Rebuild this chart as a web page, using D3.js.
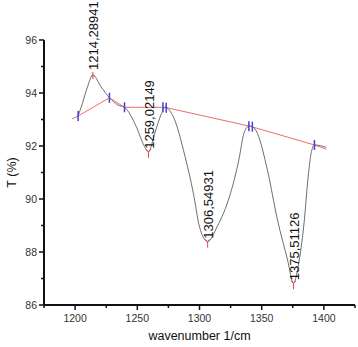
<!DOCTYPE html>
<html>
<head>
<meta charset="utf-8">
<script src="https://cdn.jsdelivr.net/npm/d3@7"></script>
<style>
  html, body { margin: 0; padding: 0; background: #fff; }
  svg { display: block; font-family: "Liberation Sans", Arial, sans-serif; }
</style>
</head>
<body>
<svg id="chart" width="358" height="347"></svg>
<script>
// ---- data ----
const wavenumber = [1202.4, 1205.9, 1210.0, 1214.29, 1220.8, 1227.6, 1234.3, 1239.7, 1249.2, 1255.9, 1259.02, 1264.1, 1269.5, 1272.2,
  1278.9, 1288.4, 1295.1, 1300.0, 1306.55, 1314.1, 1324.9, 1331.6, 1335.7, 1339.7, 1342.5, 1346.5, 1354.6, 1362.7, 1370.8,
  1375.51, 1380.2, 1384.3, 1387.1, 1389.7, 1392.4, 1401.9];
const transmittance = [93.13, 93.61, 94.24, 94.68, 94.24, 93.82, 93.55, 93.46, 92.73, 91.97, 91.78, 92.49, 93.23, 93.46,
  93.11, 91.60, 90.21, 88.95, 88.39, 88.95, 90.21, 91.47, 92.48, 92.75, 92.73, 92.48, 91.09, 89.21, 87.70,
  86.82, 87.70, 89.21, 90.72, 91.72, 92.04, 91.95];

const baselineX = [1197.5, 1202.4, 1227.6, 1239.7, 1272.2, 1341.0, 1392.4, 1401.9];
const baselineY = [93.02, 93.13, 93.82, 93.46, 93.46, 92.74, 92.04, 91.88];

const anchorX = [1202.4, 1227.6, 1239.7, 1270.6, 1273.2, 1339.7, 1342.5, 1392.4];
const anchorY = [93.13, 93.82, 93.46, 93.46, 93.44, 92.75, 92.73, 92.04];

const peakX = [1214.28941, 1259.02149, 1306.54931, 1375.51126];
const peakY = [94.68, 91.78, 88.39, 86.82];
const peakType = ["max", "min", "min", "min"];
const peakLabels = ["1214,28941", "1259,02149", "1306,54931", "1375,51126"];

const xTicks = [1200, 1250, 1300, 1350, 1400];
const xMinorTicks = [1175, 1225, 1275, 1325, 1375, 1425];
const yTicks = [86, 88, 90, 92, 94, 96];
const yMinorTicks = [87, 89, 91, 93, 95];
const xTitle = "wavenumber 1/cm";
const yTitle = "T (%)";

(function () {
// ---- layout ----
const svg = d3.select("#chart");
const mLeft = 44, mRight = 355, mTop = 40, mBottom = 305;
const x = d3.scaleLinear().domain([1175, 1425]).range([mLeft, mRight]);
const y = d3.scaleLinear().domain([86, 96]).range([mBottom, mTop]);

// baseline (red)
const baseData = baselineX.map((v, i) => [v, baselineY[i]]);
svg.append("path")
  .datum(baseData)
  .attr("fill", "none")
  .attr("stroke", "#f06a6a")
  .attr("stroke-width", 1)
  .attr("d", d3.line().x(d => x(d[0])).y(d => y(d[1])));

// spectrum (gray)
const specData = wavenumber.map((v, i) => [v, transmittance[i]]);
svg.append("path")
  .datum(specData)
  .attr("fill", "none")
  .attr("stroke", "#6e6e6e")
  .attr("stroke-width", 1)
  .attr("d", d3.line().curve(d3.curveMonotoneX).x(d => x(d[0])).y(d => y(d[1])));

// anchor markers (blue)
svg.append("g").selectAll("line")
  .data(anchorX.map((v, i) => [v, anchorY[i]]))
  .join("line")
  .attr("x1", d => x(d[0])).attr("x2", d => x(d[0]))
  .attr("y1", d => y(d[1]) - 5).attr("y2", d => y(d[1]) + 5)
  .attr("stroke", "#4040d8")
  .attr("stroke-width", 1.5);

// peak markers (red)
const peaks = peakX.map((v, i) => ({ x: v, y: peakY[i], t: peakType[i], label: peakLabels[i] }));
const pg = svg.append("g");
pg.selectAll("path")
  .data(peaks)
  .join("path")
  .attr("fill", "none")
  .attr("stroke", "#e8404a")
  .attr("stroke-width", 1)
  .attr("d", d => {
    const px = x(d.x), py = y(d.y);
    if (d.t === "min") {
      return `M${px - 2.5},${py - 2.5}L${px},${py}L${px + 2.5},${py - 2.5}M${px},${py}L${px},${py + 6}`;
    }
    return `M${px},${py - 3}L${px},${py + 4}M${px - 2},${py + 2}L${px},${py}L${px + 2},${py + 2}`;
  });

// peak labels
pg.selectAll("text")
  .data(peaks)
  .join("text")
  .attr("transform", d => `translate(${x(d.x) + 0.5},${y(d.y) - (d.t === "max" ? 5 : 3)}) rotate(-90)`)
  .attr("dy", "0.36em")
  .attr("text-anchor", "start")
  .attr("font-size", 13)
  .attr("fill", "#111")
  .text(d => d.label);

// ---- axes ----
const axisColor = "#111";
const xg = svg.append("g");
xg.append("line").attr("x1", mLeft - 1).attr("x2", mRight).attr("y1", mBottom).attr("y2", mBottom)
  .attr("stroke", axisColor).attr("stroke-width", 2);
xg.selectAll("line.maj").data(xTicks).join("line").attr("class", "maj")
  .attr("x1", d => x(d)).attr("x2", d => x(d)).attr("y1", mBottom).attr("y2", mBottom + 5)
  .attr("stroke", axisColor).attr("stroke-width", 1.5);
xg.selectAll("line.min").data(xMinorTicks).join("line").attr("class", "min")
  .attr("x1", d => x(d)).attr("x2", d => x(d)).attr("y1", mBottom).attr("y2", mBottom + 3)
  .attr("stroke", axisColor).attr("stroke-width", 1.5);
xg.selectAll("text").data(xTicks).join("text")
  .attr("x", d => x(d)).attr("y", mBottom + 17)
  .attr("text-anchor", "middle").attr("font-size", 10.5).attr("fill", "#333")
  .text(d => d);

const yg = svg.append("g");
yg.append("line").attr("x1", mLeft).attr("x2", mLeft).attr("y1", mTop).attr("y2", mBottom + 1)
  .attr("stroke", axisColor).attr("stroke-width", 2);
yg.selectAll("line.maj").data(yTicks).join("line").attr("class", "maj")
  .attr("x1", mLeft - 5).attr("x2", mLeft).attr("y1", d => y(d)).attr("y2", d => y(d))
  .attr("stroke", axisColor).attr("stroke-width", 1.5);
yg.selectAll("line.min").data(yMinorTicks).join("line").attr("class", "min")
  .attr("x1", mLeft - 3).attr("x2", mLeft).attr("y1", d => y(d)).attr("y2", d => y(d))
  .attr("stroke", axisColor).attr("stroke-width", 1.5);
yg.selectAll("text").data(yTicks).join("text")
  .attr("x", mLeft - 7).attr("y", d => y(d)).attr("dy", "0.35em")
  .attr("text-anchor", "end").attr("font-size", 10.5).attr("fill", "#333")
  .text(d => d);

// titles
svg.append("text")
  .attr("x", (mLeft + mRight) / 2).attr("y", 340)
  .attr("text-anchor", "middle").attr("font-size", 12.5).attr("fill", "#111")
  .text(xTitle);
svg.append("text")
  .attr("transform", `translate(12,${(mTop + mBottom) / 2}) rotate(-90)`)
  .attr("dy", "0.35em")
  .attr("text-anchor", "middle").attr("font-size", 12.5).attr("fill", "#111")
  .text(yTitle);
})();
</script>
</body>
</html>
